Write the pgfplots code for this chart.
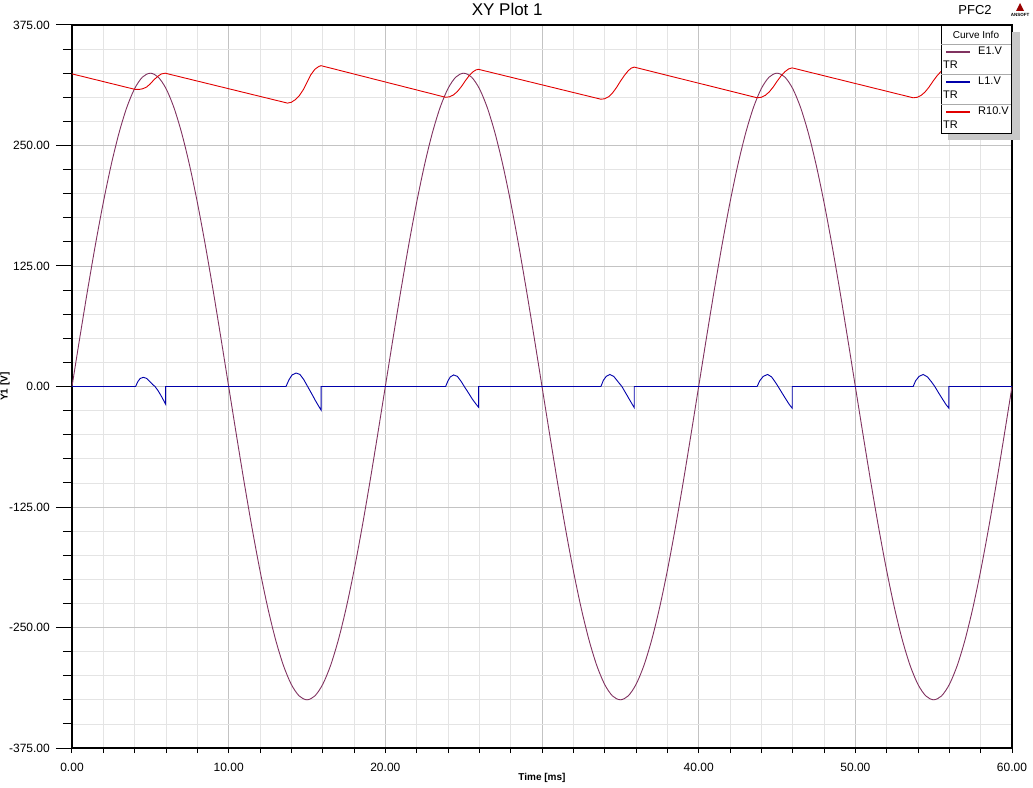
\documentclass[border=0pt]{standalone}
\usepackage{pgfplots}
\pgfplotsset{compat=1.18}
\usepackage{fontspec}
\setmainfont{Liberation Sans}
\definecolor{eone}{RGB}{128,50,96}
\definecolor{lone}{RGB}{0,0,170}
\definecolor{rten}{RGB}{225,0,0}
\definecolor{majgrid}{RGB}{195,195,195}
\definecolor{mingrid}{RGB}{228,228,228}
\definecolor{sepgray}{RGB}{170,170,170}
\definecolor{shadow}{RGB}{200,200,200}
\begin{document}
\begin{tikzpicture}
\path[use as bounding box] (-72pt,-39pt) rectangle (961pt,748pt);
\begin{axis}[at={(0pt,0pt)}, anchor=south west, scale only axis,
  width=940pt, height=723pt,
  xmin=0, xmax=60, ymin=-375, ymax=375,
  xtick={0,10,20,30,40,50,60}, ytick={-375,-250,-125,0,125,250,375},
  xticklabels={0.00,10.00,20.00,,40.00,50.00,60.00},
  minor x tick num=4, minor y tick num=4,
  grid=both,
  major grid style={majgrid, line width=0.8pt},
  minor grid style={mingrid, line width=0.8pt},
  tick align=outside, tick pos=left,
  major tick length=16pt, minor tick length=9pt,
  xtick style={/pgfplots/major tick length=5pt, /pgfplots/minor tick length=5pt},
  tick style={black, line width=1pt},
  axis line style={black, line width=1.3pt},
  /pgf/number format/assume math mode=true,
  /pgf/number format/.cd, fixed, fixed zerofill, precision=2, /pgfplots/.cd,
  ticklabel style={font=\fontsize{12}{14}\selectfont},
  yticklabel style={inner sep=0pt, anchor=east, xshift=-6pt},
  xticklabel style={inner sep=0pt, anchor=north, yshift=1pt},
  xlabel={Time [ms]},
  xlabel style={font=\bfseries\fontsize{10}{12}\selectfont, at={(axis description cs:0.5,0)}, anchor=center, yshift=-30pt},
  ylabel={Y1 [V]},
  ylabel style={font=\bfseries\fontsize{10}{12}\selectfont, at={(axis description cs:-0.0713,0.5)}, anchor=center},
  title={XY Plot 1},
  title style={font=\fontsize{17}{20}\selectfont, at={(axis description cs:0.463,1)}, anchor=center, yshift=10pt},
]
% E1.V
\addplot[eone, line width=0.9pt, smooth] coordinates {
(0,0) (0.5,50.84) (1,100.43) (1.5,147.55) (2,191.03) (2.5,229.81) (3,262.93) (3.5,289.58) (4,309.09) (4.5,321.00)
(5,325) (5.5,321.00) (6,309.09) (6.5,289.58) (7,262.93) (7.5,229.81) (8,191.03) (8.5,147.55) (9,100.43) (9.5,50.84)
(10,0) (10.5,-50.84) (11,-100.43) (11.5,-147.55) (12,-191.03) (12.5,-229.81) (13,-262.93) (13.5,-289.58) (14,-309.09) (14.5,-321.00)
(15,-325) (15.5,-321.00) (16,-309.09) (16.5,-289.58) (17,-262.93) (17.5,-229.81) (18,-191.03) (18.5,-147.55) (19,-100.43) (19.5,-50.84)
(20,0) (20.5,50.84) (21,100.43) (21.5,147.55) (22,191.03) (22.5,229.81) (23,262.93) (23.5,289.58) (24,309.09) (24.5,321.00)
(25,325) (25.5,321.00) (26,309.09) (26.5,289.58) (27,262.93) (27.5,229.81) (28,191.03) (28.5,147.55) (29,100.43) (29.5,50.84)
(30,0) (30.5,-50.84) (31,-100.43) (31.5,-147.55) (32,-191.03) (32.5,-229.81) (33,-262.93) (33.5,-289.58) (34,-309.09) (34.5,-321.00)
(35,-325) (35.5,-321.00) (36,-309.09) (36.5,-289.58) (37,-262.93) (37.5,-229.81) (38,-191.03) (38.5,-147.55) (39,-100.43) (39.5,-50.84)
(40,0) (40.5,50.84) (41,100.43) (41.5,147.55) (42,191.03) (42.5,229.81) (43,262.93) (43.5,289.58) (44,309.09) (44.5,321.00)
(45,325) (45.5,321.00) (46,309.09) (46.5,289.58) (47,262.93) (47.5,229.81) (48,191.03) (48.5,147.55) (49,100.43) (49.5,50.84)
(50,0) (50.5,-50.84) (51,-100.43) (51.5,-147.55) (52,-191.03) (52.5,-229.81) (53,-262.93) (53.5,-289.58) (54,-309.09) (54.5,-321.00)
(55,-325) (55.5,-321.00) (56,-309.09) (56.5,-289.58) (57,-262.93) (57.5,-229.81) (58,-191.03) (58.5,-147.55) (59,-100.43) (59.5,-50.84)
(60,0)
};
% L1.V
\addplot[lone, line width=0.9pt] coordinates {
(0,0) (4.06,0) (4.2,5) (4.35,8.3) (4.55,9.5) (4.75,8.5) (4.95,5.5) (5.15,2) (5.3,0) (5.5,-4.5) (5.7,-10) (5.85,-14.5) (5.98,-18.5) (5.98,0)
(13.66,0) (13.85,7) (14.05,12) (14.3,14) (14.55,12.5) (14.8,7) (15.04,0) (15.3,-7.5) (15.55,-15) (15.75,-20.5) (15.9,-24.5) (15.9,0)
(23.85,0) (24.0,6) (24.15,10) (24.36,12) (24.6,10.5) (24.85,5) (25.04,0) (25.3,-6.5) (25.55,-13) (25.8,-18.5) (25.95,-21.5) (25.95,0)
(33.76,0) (33.92,6.5) (34.1,10.5) (34.33,12.5) (34.58,10.5) (34.85,5) (35.1,0) (35.35,-7) (35.6,-14) (35.78,-19) (35.89,-22) (35.89,0)
(43.73,0) (43.9,6) (44.12,10.5) (44.4,12.5) (44.65,10) (44.87,5) (45.07,0) (45.35,-7.5) (45.6,-14) (45.8,-19) (45.97,-22.5) (45.97,0)
(53.69,0) (53.85,6) (54.07,10.5) (54.33,12.5) (54.6,10) (54.85,5) (55.07,0) (55.35,-7.5) (55.6,-14) (55.8,-19) (55.97,-22.5) (55.97,0)
(60,0)
};
% R10.V
\addplot[rten, line width=0.9pt] coordinates {
(0,324.3) (4.0,308.3) (4.3,308.2) (4.5,308.8) (4.75,310.5) (5.0,314) (5.25,318.5) (5.5,322) (5.7,324.2) (5.95,325)
(13.75,294) (14.0,294.8) (14.25,297.5) (14.5,301.5) (14.75,307.5) (15.0,315.5) (15.25,323.5) (15.5,329) (15.75,332) (15.9,332.8)
(23.85,300) (24.1,300.5) (24.35,302.5) (24.6,306) (24.85,311) (25.1,317) (25.35,322.5) (25.6,326.5) (25.8,328.5) (25.95,329)
(33.76,298) (34.0,298.5) (34.25,300.5) (34.5,304.5) (34.75,310) (35.0,316.5) (35.25,322.5) (35.5,327.5) (35.7,330.3) (35.89,331.3)
(43.73,299.5) (44.0,300) (44.25,302) (44.5,305.5) (44.75,310.5) (45.0,316.5) (45.25,322) (45.5,326.5) (45.75,329.5) (45.97,330.5)
(53.69,299.5) (53.95,300) (54.2,302) (54.45,305.5) (54.7,310.5) (54.95,316.5) (55.2,322) (55.45,326.5) (55.7,329.5) (55.97,331)
(60,315)
};
\end{axis}
% legend box
\fill[shadow] (876pt,608pt) rectangle (948pt,716pt);
\draw[black, line width=0.8pt, fill=white] (869pt,615pt) rectangle (939pt,723pt);
\node[font=\fontsize{10}{12}\selectfont] at (904pt,713pt) {Curve Info};
\draw[sepgray, line width=0.6pt] (869pt,704pt) -- (939pt,704pt);
\draw[sepgray, line width=0.6pt] (869pt,674pt) -- (939pt,674pt);
\draw[sepgray, line width=0.6pt] (869pt,644pt) -- (939pt,644pt);
\draw[eone, line width=1.3pt] (874pt,696pt) -- (898pt,696pt);
\draw[lone, line width=1.3pt] (874pt,666pt) -- (898pt,666pt);
\draw[rten, line width=1.3pt] (874pt,636pt) -- (898pt,636pt);
\node[font=\fontsize{11}{13}\selectfont, anchor=west, inner sep=0pt] at (906pt,697pt) {E1.V};
\node[font=\fontsize{11}{13}\selectfont, anchor=west, inner sep=0pt] at (906pt,667pt) {L1.V};
\node[font=\fontsize{11}{13}\selectfont, anchor=west, inner sep=0pt] at (906pt,637pt) {R10.V};
\node[font=\fontsize{11}{13}\selectfont, anchor=west, inner sep=0pt] at (871pt,683pt) {TR};
\node[font=\fontsize{11}{13}\selectfont, anchor=west, inner sep=0pt] at (871pt,653pt) {TR};
\node[font=\fontsize{11}{13}\selectfont, anchor=west, inner sep=0pt] at (871pt,623pt) {TR};
% header texts
\node[font=\fontsize{13}{15}\selectfont] at (903pt,738pt) {PFC2};
\fill[red!60!black] (948pt,745pt) -- (944pt,737pt) -- (952pt,737pt) -- cycle;
\node[font=\bfseries\fontsize{4.5}{5}\selectfont, inner sep=0pt] at (948pt,733.5pt) {ANSOFT};
\end{tikzpicture}
\end{document}
